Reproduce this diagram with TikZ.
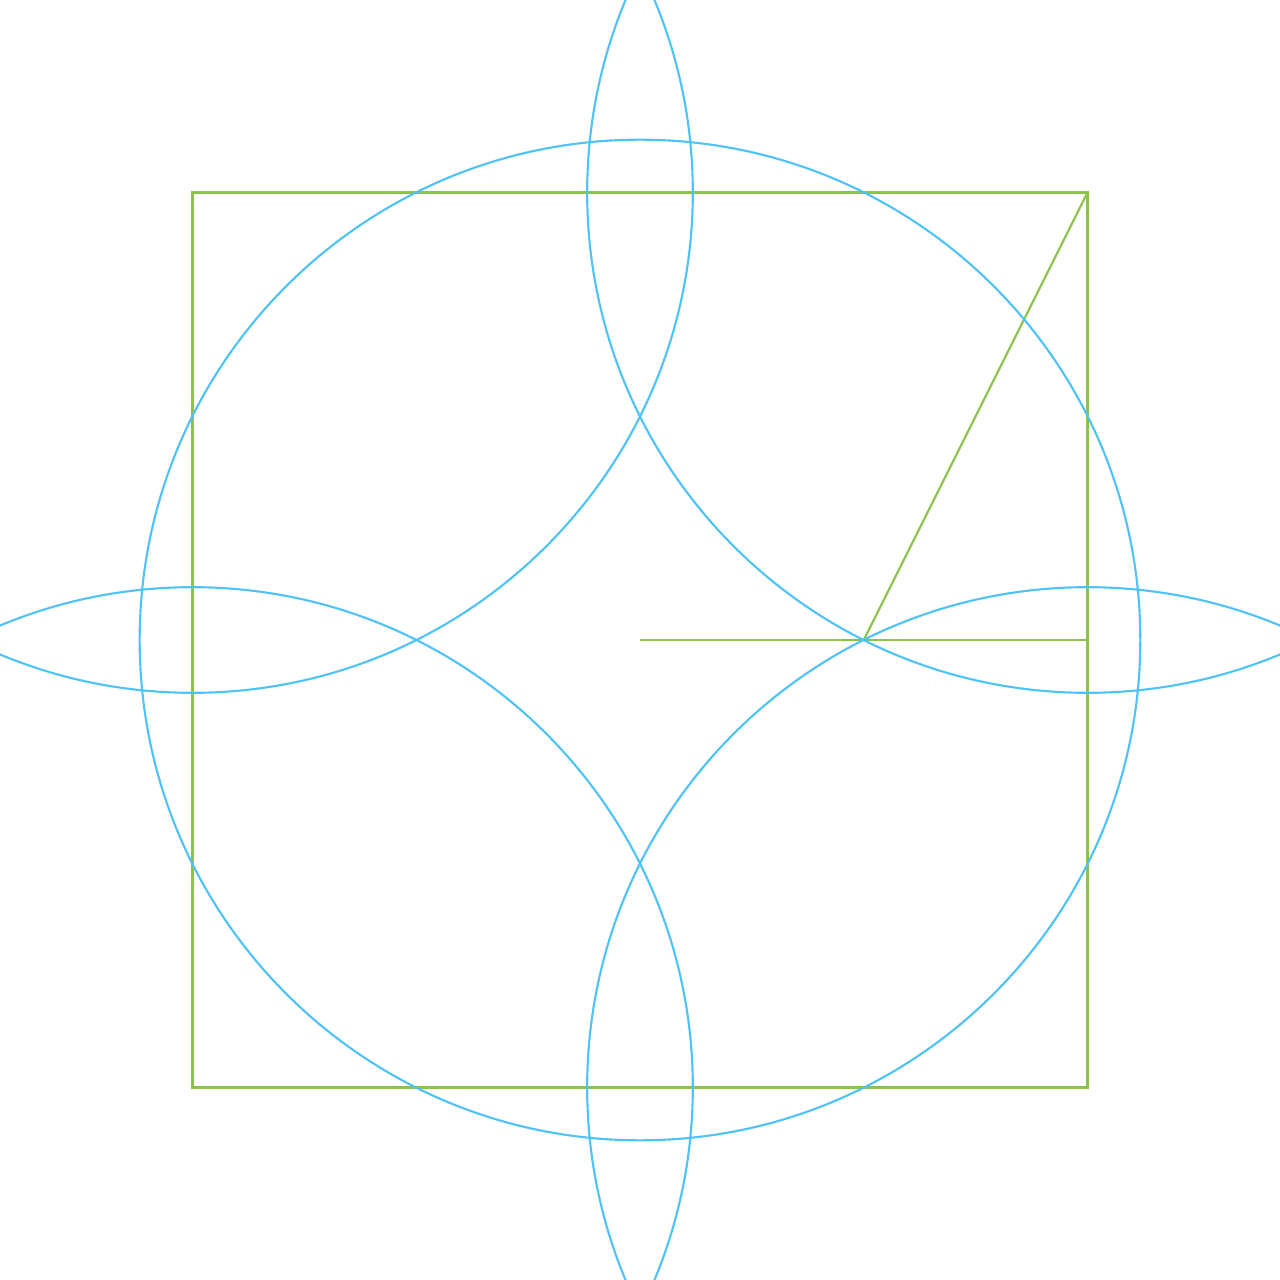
\documentclass[tikz,border=0pt]{standalone}
\usepackage{tikz}
\usetikzlibrary{calc}
\definecolor{arcblue}{HTML}{4FC3F7}
\definecolor{guidegreen}{HTML}{8BC34A}

\begin{document}
\begin{tikzpicture}[
    line width=0.27pt,
    guide/.style={draw=guidegreen},
    arc/.style={draw=arcblue}
]

    % Frame
    \useasboundingbox (-2.8603, -2.8603) rectangle (2.8603, 2.8603);
    \clip (-2.8603, -2.8603) rectangle (2.8603, 2.8603);

    % Square and construction points
    \coordinate (O) at (0, 0);
    \coordinate (M) at (1, 0);
    \coordinate (E) at (2, 0);
    \coordinate (NE) at (2, 2);
    \coordinate (NW) at (-2, 2);
    \coordinate (SW) at (-2, -2);
    \coordinate (SE) at (2, -2);
    \draw[guide] (SW) rectangle (NE);
    \draw[guide] (O) -- (E);
    \draw[guide] (M) -- (NE);

    % Circles of radius |M NE|
    \foreach \c in {O, NE, NW, SW, SE}
        \draw[arc] (\c) circle ({sqrt(5)});

\end{tikzpicture}
\end{document}
